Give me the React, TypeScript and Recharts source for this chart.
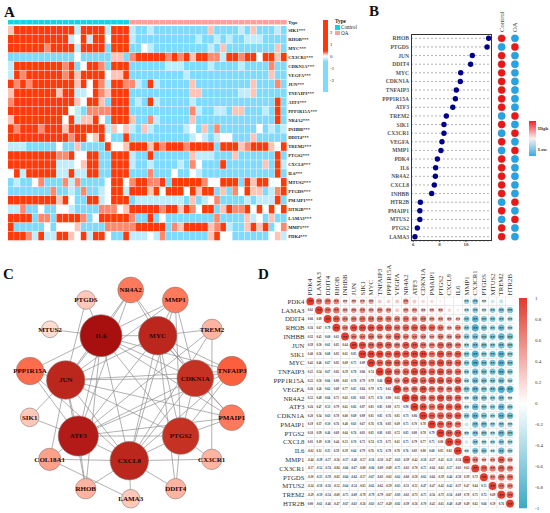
import React from "react";
import {
  Bar,
  BarChart,
  CartesianGrid,
  Scatter,
  ScatterChart,
  XAxis,
  YAxis,
} from "recharts";

const SERIF = '"Liberation Serif", "Times New Roman", serif';

// Panel A: expression heatmap. One letter per sample:
// R strong red, o orange, p pale pink, w white, l light blue, b blue
const heatGenes = [
  "SIK1", "RHOB", "MYC", "CX3CR1", "CDKN1A", "VEGFA", "JUN", "TNFAIP3",
  "ATF3", "PPP1R15A", "NR4A2", "INHBB", "DDIT4", "TREM2", "PTGS2", "CXCL8",
  "IL6", "MTUS2", "PTGDS", "PMAIP1", "HTR2B", "LAMA3", "MMP1", "PDK4",
];
const heatControl = [
  "pRRRRRRRRRRlRRRRlRRR", "RRRRRRRRRRlwRlRRwRRR", "RRRRRRoRRRRlRRRRbRRR",
  "bbbbbbbbbbbwbbbbbppb", "lRRRRRRRRoRbwRRobRRR", "lRoRRRRRRoRpRRRRwppR",
  "RoRoRRRRRRRpRwRolRRo", "pRRRRRRRpRRllwRopRRR", "oRRRRRRRRRRpwRRpbRRR",
  "RRRRRRRRRRwlbooooRRR", "pRRRRRRRRwRlppRwbRRR", "RoRRRoRRRpRRRRRRlpwp",
  "RRRRRRRRRRoRRwpRwbbR", "lllbbbbbwbbpbbbbRwwp", "RRRRRRRRooRwwRRbbRRR",
  "RRRRRRRRlllwpRRbbRRR", "wRlRRRRRllRllRRbbRRR", "blbbwobbbolobbbbwRRw",
  "bbbbbbbobblbobblwRRl", "RRRRRRRRpRwbbRRlwRRR", "llobbwbbwwlbbbbooowp",
  "RRRRboobRRRRobwRRRRR", "Rbbbbbwbwwwpbbbboooo", "RRRolRllRRpwRlRRwbbR",
];
const heatOA = [
  "lbblbbbbbbbbbpbbbblbpbbblb", "lbbbbbbbbbblbblblbblllbbbb", "bbwlbbbbbbbbblbpbbbbbbbbpb",
  "oRRRRRoRoRpRRoolRRoRRwRRpR", "bbbbbblllbbbblbbbblbbbbobb", "bbbbbbbbblbbbbbbbbbbbbbpbb",
  "olbRlbbbbbpbbbbbbbbbpbbbob", "bbbbbbbbbbppbbbbbbllpbbbbb", "blbRlbbbbblbbbbbbbbbbbbbRb",
  "bbbbbbbbbbolbbllbppbbblbRb", "pbbolbbbbbpbbbbbbbbbbbbbRb", "lbplbbbbblwbpbobbbbbbwblbl",
  "bbbbbbbbbblwlblwwbbbpbbbbb", "RRRpRoRRRoRRRRbRRRpoRRRpwR", "lbbRbbbbbbplllbbbpbbbbbbRb",
  "lbblbbbblbowbbbRbbbbbbpbRl", "bbbobbbwbbwlbbbbbbbbbbbbRb", "oRRooRbRRRRRowwRRRbRpRRwwR",
  "RRRpRwRRRwRpRRbpbowRppbloR", "bllllllllbpblwobbbblblllRb", "RRRRRoRRpRowRRbpRooRwRwRwR",
  "obbRbwbbbbbbbbobbbbplwbpbb", "oRRRRRbopRRRRpoRlbbpRpRbwo", "lllwlobbbbbbbpRwwbbbbbbwpl",
];
const heatLevels: Record<string, number> = { R: 2, o: 0.3, p: 0.15, w: 0, l: -0.25, b: -1 };

// Panel B: mean expression, sorted, and which group is high
const lolliGenes = [
  "RHOB", "PTGDS", "JUN", "DDIT4", "MYC", "CDKN1A", "TNFAIP3", "PPP1R15A",
  "ATF3", "TREM2", "SIK1", "CX3CR1", "VEGFA", "MMP1", "PDK4", "IL6",
  "NR4A2", "CXCL8", "INHBB", "HTR2B", "PMAIP1", "MTUS2", "PTGS2", "LAMA3",
];
const lolliValues = [
  11.72, 11.6, 10.48, 10.35, 9.6, 9.57, 9.27, 9.2, 9.0, 8.51, 8.33, 8.33,
  8.18, 8.1, 7.83, 7.7, 7.68, 7.6, 7.4, 6.54, 6.5, 6.5, 6.31, 6.13,
];
const highInOA = ["PTGDS", "TREM2", "CX3CR1", "MMP1", "HTR2B", "MTUS2"];
const groups = ["Control", "OA"];

// Panel C: network, layout positions and scores
const nodeNames = [
  "IL6", "MYC", "JUN", "CDKN1A", "ATF3", "PTGS2", "CXCL8", "NR4A2", "MMP1", "TREM2", "TNFAIP3",
  "PMAIP1", "CX3CR1", "DDIT4", "LAMA3", "RHOB", "COL18A1", "SIK1", "PPP1R15A", "MTUS2", "PTGDS",
];
const nodeX = [101, 157.7, 65.7, 195.3, 78.3, 180.7, 129.3, 130.7, 175.3, 212, 232, 231.7, 211.7, 175.7, 130.7, 85.7, 49.7, 29.7, 30, 50, 86];
const nodeY = [85.7, 85.7, 130, 128.3, 186, 186, 210.7, 40, 50, 79.3, 121, 167.7, 209.3, 238.7, 248.7, 238.7, 209.3, 167.3, 121, 79.3, 50];
const nodeScore = [15, 13, 13, 12, 14, 12, 13, 6, 6, 3, 8, 6, 3, 3, 2, 3, 4, 2, 7, 1, 2];
const edges: [string, string][] = [
  ["IL6", "MYC"], ["IL6", "JUN"], ["IL6", "CDKN1A"], ["IL6", "ATF3"], ["IL6", "PTGS2"], ["IL6", "CXCL8"],
  ["MYC", "JUN"], ["MYC", "CDKN1A"], ["MYC", "ATF3"], ["MYC", "PTGS2"], ["MYC", "CXCL8"],
  ["JUN", "CDKN1A"], ["JUN", "ATF3"], ["JUN", "PTGS2"], ["JUN", "CXCL8"],
  ["CDKN1A", "ATF3"], ["CDKN1A", "PTGS2"], ["CDKN1A", "CXCL8"],
  ["ATF3", "PTGS2"], ["ATF3", "CXCL8"], ["PTGS2", "CXCL8"],
  ["NR4A2", "IL6"], ["NR4A2", "MYC"], ["NR4A2", "CDKN1A"], ["NR4A2", "JUN"], ["NR4A2", "ATF3"],
  ["MMP1", "IL6"], ["MMP1", "MYC"], ["MMP1", "CDKN1A"], ["MMP1", "CXCL8"], ["MMP1", "PTGS2"], ["MMP1", "JUN"],
  ["TREM2", "MYC"], ["TREM2", "ATF3"], ["TREM2", "CX3CR1"], ["TREM2", "CXCL8"],
  ["TNFAIP3", "MYC"], ["TNFAIP3", "IL6"], ["TNFAIP3", "JUN"], ["TNFAIP3", "CDKN1A"], ["TNFAIP3", "PTGS2"], ["TNFAIP3", "CXCL8"], ["TNFAIP3", "ATF3"],
  ["PMAIP1", "JUN"], ["PMAIP1", "MYC"], ["PMAIP1", "CDKN1A"], ["PMAIP1", "PTGS2"], ["PMAIP1", "ATF3"], ["PMAIP1", "IL6"],
  ["CX3CR1", "CXCL8"], ["CX3CR1", "PTGS2"],
  ["DDIT4", "CXCL8"], ["DDIT4", "PTGS2"], ["DDIT4", "MYC"],
  ["LAMA3", "CXCL8"], ["LAMA3", "COL18A1"],
  ["RHOB", "ATF3"], ["RHOB", "CXCL8"], ["RHOB", "JUN"], ["RHOB", "IL6"],
  ["COL18A1", "CXCL8"], ["COL18A1", "JUN"], ["COL18A1", "ATF3"],
  ["SIK1", "JUN"], ["SIK1", "ATF3"],
  ["PPP1R15A", "CXCL8"], ["PPP1R15A", "ATF3"], ["PPP1R15A", "JUN"], ["PPP1R15A", "IL6"],
  ["MTUS2", "IL6"], ["PTGDS", "IL6"], ["PTGDS", "JUN"],
];

// Panel D: correlation matrix, lower triangle by row
const corrGenes = [
  "PDK4", "LAMA3", "DDIT4", "RHOB", "INHBB", "JUN", "SIK1", "MYC", "TNFAIP3", "PPP1R15A", "VEGFA", "NR4A2",
  "ATF3", "CDKN1A", "PMAIP1", "PTGS2", "CXCL8", "IL6", "MMP1", "CX3CR1", "PTGDS", "MTUS2", "TREM2", "HTR2B",
];
const corrLower: number[][] = [
  [],
  [0.62],
  [0.66, 0.69],
  [0.56, 0.67, 0.79],
  [0.32, 0.45, 0.6, 0.61],
  [0.39, 0.5, 0.61, 0.85, 0.64],
  [0.4, 0.56, 0.68, 0.85, 0.65, 0.85],
  [0.42, 0.46, 0.67, 0.85, 0.69, 0.75, 0.89],
  [0.25, 0.54, 0.67, 0.82, 0.59, 0.78, 0.86, 0.74],
  [0.22, 0.5, 0.66, 0.8, 0.63, 0.78, 0.79, 0.79, 0.84],
  [0.26, 0.26, 0.62, 0.69, 0.77, 0.65, 0.84, 0.79, 0.72, 0.62],
  [0.52, 0.49, 0.66, 0.75, 0.63, 0.81, 0.82, 0.75, 0.74, 0.8, 0.65],
  [0.26, 0.47, 0.53, 0.79, 0.62, 0.82, 0.87, 0.85, 0.85, 0.8, 0.71, 0.9],
  [0.2, 0.34, 0.63, 0.78, 0.6, 0.69, 0.89, 0.85, 0.85, 0.76, 0.85, 0.73, 0.86],
  [0.19, 0.37, 0.5, 0.76, 0.48, 0.63, 0.67, 0.76, 0.76, 0.83, 0.69, 0.75, 0.7, 0.78],
  [0.1, 0.39, 0.46, 0.69, 0.64, 0.76, 0.83, 0.85, 0.83, 0.82, 0.72, 0.85, 0.8, 0.78, 0.79],
  [0.01, 0.19, 0.38, 0.44, 0.53, 0.7, 0.71, 0.74, 0.71, 0.75, 0.65, 0.75, 0.79, 0.77, 0.75, 0.8],
  [-0.02, 0.12, 0.35, 0.59, 0.59, 0.64, 0.79, 0.76, 0.72, 0.78, 0.78, 0.76, 0.83, 0.8, 0.68, 0.85, 0.82],
  [-0.44, -0.39, -0.57, -0.56, -0.57, -0.48, -0.57, -0.56, -0.5, -0.47, -0.63, -0.39, -0.42, -0.58, -0.27, -0.41, -0.23, -0.34],
  [-0.57, -0.52, -0.74, -0.84, -0.66, -0.67, -0.8, -0.84, -0.69, -0.69, -0.75, -0.63, -0.7, -0.75, -0.64, -0.62, -0.57, -0.63, 0.62],
  [-0.3, -0.35, -0.59, -0.63, -0.64, -0.64, -0.57, -0.67, -0.63, -0.63, -0.62, -0.6, -0.58, -0.62, -0.64, -0.59, -0.46, -0.58, 0.39, 0.73],
  [-0.24, -0.5, -0.56, -0.52, -0.64, -0.54, -0.65, -0.62, -0.62, -0.59, -0.65, -0.51, -0.51, -0.47, -0.47, -0.42, -0.42, -0.37, 0.47, 0.64, 0.55],
  [-0.29, -0.59, -0.54, -0.69, -0.75, -0.69, -0.78, -0.79, -0.79, -0.67, -0.83, -0.63, -0.73, -0.75, -0.56, -0.73, -0.56, -0.69, 0.78, 0.75, 0.72, 0.69],
  [-0.0, -0.61, -0.46, -0.47, -0.67, -0.63, -0.56, -0.63, -0.57, -0.49, -0.82, -0.39, -0.56, -0.7, -0.45, -0.65, -0.48, -0.49, 0.49, 0.62, 0.66, 0.59, 0.76],
];
const corrTicks = [1, 0.8, 0.6, 0.4, 0.2, 0, -0.2, -0.4, -0.6, -0.8, -1];

// colour helpers
const mix = (a: number[], b: number[], t: number) =>
  `rgb(${a.map((c, i) => Math.round(c + (b[i] - c) * t)).join(",")})`;
const WHITE = [255, 255, 255];
const heatColor = (v: number) =>
  v >= 0 ? mix(WHITE, [255, 58, 10], Math.min(v / 0.5, 1)) : mix(WHITE, [127, 219, 253], Math.min(-v / 0.5, 1));
const corrColor = (v: number) =>
  v >= 0 ? mix(WHITE, [226, 60, 46], Math.min(v * 1.1, 1)) : mix(WHITE, [63, 169, 198], Math.min(-v * 1.1, 1));
const nodeStops: [number, number[]][] = [
  [1, [255, 220, 210]], [4, [255, 160, 138]], [6, [255, 122, 92]], [8, [251, 95, 62]], [12, [197, 50, 36]], [15, [168, 16, 16]],
];
const nodeColor = (s: number) => {
  for (let i = 1; i < nodeStops.length; i++) {
    const [s0, c0] = nodeStops[i - 1];
    const [s1, c1] = nodeStops[i];
    if (s <= s1) return mix(c0, c1, (s - s0) / (s1 - s0));
  }
  return mix(WHITE, WHITE, 0);
};

// tables
const heatCells = heatGenes.flatMap((gene, r) =>
  (heatControl[r] + heatOA[r]).split("").map((ch, c) => ({ x: c + 0.5, y: r + 0.5, v: heatLevels[ch], gene })),
);
const typeCells = Array.from(heatControl[0] + heatOA[0]).map((_, c) => ({ x: c + 0.5, y: -0.42, control: c < heatControl[0].length }));
const lolliData = lolliGenes.map((gene, i) => ({ gene, x: lolliValues[i], y: i + 0.5 }));
const groupDots = lolliGenes.flatMap((gene, i) =>
  groups.map((g, c) => ({ x: c + 0.5, y: i + 0.5, high: (g === "OA") === highInOA.includes(gene) })),
);
const nodes = nodeNames.map((name, i) => ({ name, x: nodeX[i], y: nodeY[i], score: nodeScore[i] }));
const nodeByName = Object.fromEntries(nodes.map((n) => [n.name, n]));
const corrAt = (r: number, c: number) => (r === c ? 1 : r > c ? corrLower[r][c] : corrLower[c][r]);
const corrCells = corrGenes.flatMap((_, r) =>
  corrGenes.map((__, c) => ({ x: c + 0.5, y: r + 0.5, v: corrAt(r, c), upper: c >= r })),
);

const HEAT_W = 279;
const HEAT_ROW = 8.95;
const HEAT_CELL = HEAT_W / 46;
const CORR_W = 208.3 / 24;
const CORR_H = 211 / 24;

function HeatCell(p: any) {
  return (
    <rect x={p.cx - HEAT_CELL / 2} y={p.cy - HEAT_ROW / 2} width={HEAT_CELL - 0.4} height={HEAT_ROW - 0.4} fill={heatColor(p.payload.v)} />
  );
}

function TypeCell(p: any) {
  return (
    <rect x={p.cx - HEAT_CELL / 2} y={p.cy - 2.2} width={HEAT_CELL - 0.3} height={4.4} fill={p.payload.control ? "#12d3e2" : "#ff9f9a"} />
  );
}

function CorrCell(p: any) {
  const { v, upper } = p.payload;
  const box = (
    <rect x={p.cx - CORR_W / 2} y={p.cy - CORR_H / 2} width={CORR_W} height={CORR_H} fill="#fff" stroke="#dcdcdc" strokeWidth={0.4} />
  );
  if (!upper) {
    return (
      <g>
        {box}
        <text x={p.cx} y={p.cy + 1} textAnchor="middle" fontSize={3} fontWeight="bold" fill="#333" fontFamily={SERIF}>
          {v.toFixed(2)}
        </text>
      </g>
    );
  }
  return (
    <g>
      {box}
      <circle cx={p.cx} cy={p.cy} r={Math.sqrt(Math.abs(v)) * 3.95} fill={corrColor(v)} />
      {Math.abs(v) >= 0.3 && (
        <text x={p.cx} y={p.cy + 2} textAnchor="middle" fontSize={4.6} fontWeight="bold" fill="#222" fontFamily={SERIF}>
          **
        </text>
      )}
    </g>
  );
}

function NodeShape(p: any) {
  const { name, score } = p.payload;
  return (
    <g>
      <circle cx={p.cx} cy={p.cy} r={7.5 + 0.9 * score} fill={nodeColor(score)} stroke="#8a7a76" strokeWidth={0.6} />
      <text x={p.cx} y={p.cy + 2.3} textAnchor="middle" fontSize={7} fontWeight="bold" fill="#2a0505" fontFamily={SERIF}>
        {name}
      </text>
    </g>
  );
}

function RotatedTick(p: any) {
  const { x, y, payload, labels, fontSize, fill } = p;
  const label = labels[Math.floor(payload.value)];
  return (
    <text
      x={x + fontSize * 0.32}
      y={y}
      transform={`rotate(-90 ${x + fontSize * 0.32} ${y})`}
      fontSize={fontSize}
      fill={fill}
      fontFamily={SERIF}
    >
      {label}
    </text>
  );
}

function ColorBar({ id, style, width, height, barWidth, domain, ticks, stops, format, tickStyle, tickMargin }: any) {
  return (
    <BarChart
      width={width}
      height={height + 8}
      data={[{ name: id, range: domain }]}
      margin={{ top: 4, right: 0, bottom: 4, left: 0 }}
      barCategoryGap={0}
      style={{ position: "absolute", ...style }}
    >
      <defs>
        <linearGradient id={id} x1="0" y1="0" x2="0" y2="1">
          {stops.map(([o, c]: [number, string]) => (
            <stop key={o} offset={o} stopColor={c} />
          ))}
        </linearGradient>
      </defs>
      <XAxis dataKey="name" hide />
      <YAxis
        orientation="right"
        type="number"
        width={width - barWidth}
        domain={domain}
        ticks={ticks}
        interval={0}
        tickLine={false}
        tickSize={0}
        axisLine={false}
        tickMargin={tickMargin}
        tick={tickStyle}
        tickFormatter={format}
        allowDataOverflow
      />
      <Bar dataKey="range" fill={`url(#${id})`} isAnimationActive={false} />
    </BarChart>
  );
}

const panelLetter = (text: string, left: number, top: number) => (
  <div style={{ position: "absolute", left, top, fontSize: 15, lineHeight: "15px", fontWeight: "bold", color: "#111" }}>{text}</div>
);

const legendText: React.CSSProperties = { position: "absolute", fontSize: 5.2, lineHeight: "6px", color: "#222", whiteSpace: "nowrap" };

export default function App() {
  const heatTicks = [-0.42, ...heatGenes.map((_, i) => i + 0.5)];
  const rowTicks = lolliGenes.map((_, i) => i + 0.5);
  return (
    <div style={{ position: "absolute", left: 0, top: 0, width: 550, height: 513, background: "#fff", fontFamily: SERIF, overflow: "hidden" }}>
      {panelLetter("A", 4, 5)}
      {panelLetter("B", 369, 4)}
      {panelLetter("C", 3, 267)}
      {panelLetter("D", 258, 267)}

      {/* A: heatmap */}
      <ScatterChart
        width={HEAT_W + 45}
        height={220.7}
        margin={{ top: 0, right: 0, bottom: 0, left: 0 }}
        style={{ position: "absolute", left: 7.7, top: 20 }}
      >
        <XAxis type="number" dataKey="x" domain={[0, 46]} hide />
        <YAxis
          type="number"
          dataKey="y"
          orientation="right"
          reversed
          width={45}
          domain={[-0.67, 24]}
          ticks={heatTicks}
          interval={0}
          tickLine={false}
          tickSize={0}
          axisLine={false}
          tickMargin={1.3}
          tick={{ fontSize: 4.6, fontWeight: "bold", fill: "#222", fontFamily: SERIF }}
          tickFormatter={(v: number) => (v < 0 ? "Type" : `${heatGenes[Math.floor(v)]}***`)}
        />
        <Scatter data={typeCells} shape={TypeCell} isAnimationActive={false} />
        <Scatter data={heatCells} shape={HeatCell} isAnimationActive={false} />
      </ScatterChart>
      <ColorBar
        id="heatScale"
        style={{ left: 323, top: 16 }}
        width={24}
        height={72}
        barWidth={4.6}
        domain={[-3, 3]}
        ticks={[2, 1, 0, -1, -2]}
        stops={[[0, "#ff3a0a"], [0.43, "#ff3a0a"], [0.5, "#ffffff"], [0.58, "#7fdbfd"], [1, "#7fdbfd"]]}
        tickMargin={2.5}
        tickStyle={{ fontSize: 4.7, fill: "#222", fontFamily: SERIF }}
      />
      <div style={{ ...legendText, left: 335, top: 18, fontWeight: "bold" }}>Type</div>
      <div style={{ position: "absolute", left: 335, top: 25, width: 4.5, height: 4.5, background: "#12d3e2" }} />
      <div style={{ position: "absolute", left: 335, top: 30.5, width: 4.5, height: 4.5, background: "#ff9f9a" }} />
      <div style={{ ...legendText, left: 341, top: 24.3 }}>Control</div>
      <div style={{ ...legendText, left: 341, top: 29.8 }}>OA</div>

      {/* B: lollipop */}
      <ScatterChart
        width={80.7 + 60}
        height={207 + 14}
        margin={{ top: 0, right: 0, bottom: 0, left: 0 }}
        style={{ position: "absolute", left: 351, top: 34 }}
      >
        <CartesianGrid vertical={false} stroke="#666" strokeWidth={0.5} strokeDasharray="2 2" />
        <XAxis
          type="number"
          dataKey="x"
          height={14}
          domain={[5.83, 11.95]}
          ticks={[6, 8, 10]}
          interval={0}
          allowDataOverflow
          axisLine={false}
          tickSize={1}
          tickMargin={0.5}
          stroke="#444"
          tick={{ fontSize: 5, fontWeight: "bold", fill: "#444", fontFamily: SERIF }}
        />
        <YAxis
          type="number"
          dataKey="y"
          reversed
          width={60}
          domain={[0, 24]}
          ticks={rowTicks}
          interval={0}
          tickLine={false}
          tickSize={0}
          axisLine={false}
          tickMargin={2}
          tick={{ fontSize: 5.6, fontWeight: "bold", fill: "#555", fontFamily: SERIF }}
          tickFormatter={(v: number) => lolliGenes[Math.floor(v)]}
        />
        <Scatter
          data={lolliData}
          isAnimationActive={false}
          shape={(p: any) => <circle cx={p.cx} cy={p.cy} r={2.7} fill="#00008b" />}
        />
      </ScatterChart>
      <div style={{ position: "absolute", left: 411, top: 34, width: 80.7, height: 207, border: "1px solid #333", boxSizing: "border-box" }} />
      <ScatterChart
        width={26.6}
        height={231}
        margin={{ top: 0, right: 0, bottom: 0, left: 0 }}
        style={{ position: "absolute", left: 495, top: 10 }}
      >
        <XAxis
          type="number"
          dataKey="x"
          orientation="top"
          height={24}
          domain={[0, 2]}
          ticks={[0.5, 1.5]}
          interval={0}
          axisLine={false}
          tickLine={false}
          tick={(p: any) => <RotatedTick {...p} y={22} labels={groups} fontSize={6.8} fill="#444" />}
        />
        <YAxis type="number" dataKey="y" reversed domain={[0, 24]} hide />
        <Scatter
          data={groupDots}
          isAnimationActive={false}
          shape={(p: any) => (
            <circle cx={p.cx} cy={p.cy} r={3.7} fill={p.payload.high ? "#f01414" : "#1fa5e8"} stroke="#777" strokeWidth={0.3} />
          )}
        />
      </ScatterChart>
      <ColorBar
        id="groupScale"
        style={{ left: 528.7, top: 117 }}
        width={21.3}
        height={35}
        barWidth={7}
        domain={[0, 1]}
        ticks={[0.8, 0.2]}
        format={(v: number) => (v > 0.5 ? "High" : "Low")}
        stops={[[0, "#f2202a"], [0.5, "#fbeff0"], [1, "#35abe8"]]}
        tickMargin={2}
        tickStyle={{ fontSize: 4.8, fontWeight: "bold", fill: "#333", fontFamily: SERIF }}
      />

      {/* C: network */}
      <ScatterChart
        width={280}
        height={263}
        margin={{ top: 0, right: 0, bottom: 0, left: 0 }}
        style={{ position: "absolute", left: 0, top: 250 }}
      >
        <XAxis type="number" dataKey="x" domain={[0, 280]} hide />
        <YAxis type="number" dataKey="y" reversed domain={[0, 263]} hide />
        {edges.map(([a, b]) => (
          <Scatter
            key={`${a}-${b}`}
            data={[nodeByName[a], nodeByName[b]]}
            line={{ stroke: "#8f8f8f", strokeWidth: 0.7 }}
            shape={() => null}
            isAnimationActive={false}
          />
        ))}
        <Scatter data={nodes} shape={NodeShape} isAnimationActive={false} />
      </ScatterChart>

      {/* D: correlation matrix */}
      <ScatterChart
        width={208.3 + 36}
        height={211 + 36}
        margin={{ top: 0, right: 0, bottom: 0, left: 0 }}
        style={{ position: "absolute", left: 270, top: 261.3 }}
      >
        <XAxis
          type="number"
          dataKey="x"
          orientation="top"
          height={36}
          domain={[0, 24]}
          ticks={rowTicks}
          interval={0}
          axisLine={false}
          tickLine={false}
          tick={(p: any) => <RotatedTick {...p} y={34.5} labels={corrGenes} fontSize={6.8} fill="#333" />}
        />
        <YAxis
          type="number"
          dataKey="y"
          reversed
          width={36}
          domain={[0, 24]}
          ticks={rowTicks}
          interval={0}
          axisLine={false}
          tickLine={false}
          tickSize={0}
          tickMargin={1.5}
          tick={{ fontSize: 6.8, fill: "#333", fontFamily: SERIF }}
          tickFormatter={(v: number) => corrGenes[Math.floor(v)]}
        />
        <Scatter data={corrCells} shape={CorrCell} isAnimationActive={false} />
      </ScatterChart>
      <ColorBar
        id="corrScale"
        style={{ left: 518.7, top: 293.7 }}
        width={31}
        height={210.6}
        barWidth={8}
        domain={[-1, 1]}
        ticks={corrTicks}
        stops={[[0, "#e03a2c"], [0.5, "#ffffff"], [1, "#3ca8c4"]]}
        tickMargin={8}
        tickStyle={{ fontSize: 5, fill: "#333", fontFamily: SERIF }}
      />
    </div>
  );
}
